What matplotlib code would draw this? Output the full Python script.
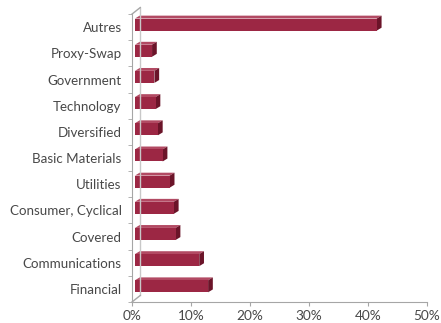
import matplotlib
matplotlib.use("Agg")
import matplotlib.pyplot as plt
from matplotlib.patches import Polygon
import numpy as np

# ===== Data =====
categories = ["Financial", "Communications", "Covered", "Consumer, Cyclical",
              "Utilities", "Basic Materials", "Diversified", "Technology",
              "Government", "Proxy-Swap", "Autres"]
values = [12.4, 10.9, 6.9, 6.6, 5.9, 4.7, 3.9, 3.5, 3.3, 2.9, 41.0]
xticks = [0, 10, 20, 30, 40, 50]
xtick_labels = ["0%", "10%", "20%", "30%", "40%", "50%"]

# ===== Style =====
plt.rcParams['font.family'] = ['Lato', 'DejaVu Sans']
FRONT = "#9c2744"
TOP = "#b24a63"
SIDE = "#6b1429"
TEXT = "#484848"
AXIS = "#a6a6a6"
WALL = "#c8c8c8"

# 3D look (data units)
OFF_X, OFF_Y = 0.5, 0.10      # bar front face shift
DEP_X, DEP_Y = 0.8, 0.11      # bar depth
WALL_X, WALL_Y = 1.4, 0.25    # back wall shift
BAR_H = 0.46

fig = plt.figure(figsize=(4.41, 3.23), dpi=100)
ax = fig.add_axes([132/441, 21/323, 295/441, 295/323])
ax.set_xlim(0, 50)
ax.set_ylim(-0.5, 10.77)

y = np.arange(len(categories))

# back wall / floor edges
ax.plot([WALL_X, WALL_X], [-0.5 + WALL_Y, 10.5 + WALL_Y], color=WALL, lw=1, clip_on=False)
ax.plot([0, WALL_X], [-0.5, -0.5 + WALL_Y], color=AXIS, lw=1, clip_on=False)
ax.plot([0, WALL_X], [10.5, 10.5 + WALL_Y], color=AXIS, lw=1, clip_on=False)

# bars
for yi, v in zip(y, values):
    x0 = OFF_X
    x1 = v + OFF_X
    yb = yi - BAR_H / 2 + OFF_Y
    yt = yi + BAR_H / 2 + OFF_Y
    ax.add_patch(Polygon([[x0, yt], [x1, yt], [x1 + DEP_X, yt + DEP_Y], [x0 + DEP_X, yt + DEP_Y]],
                         closed=True, fc=TOP, ec="none", clip_on=False))
    ax.add_patch(Polygon([[x1, yb], [x1 + DEP_X, yb + DEP_Y], [x1 + DEP_X, yt + DEP_Y], [x1, yt]],
                         closed=True, fc=SIDE, ec="none", clip_on=False))
    ax.barh(yi + OFF_Y, v, left=OFF_X, height=BAR_H, color=FRONT, edgecolor="none", clip_on=False)

# axes
for s in ["top", "right"]:
    ax.spines[s].set_visible(False)
ax.spines["left"].set_color(AXIS)
ax.spines["bottom"].set_color(AXIS)
ax.spines["left"].set_bounds(-0.5, 10.5)

ax.set_xticks(xticks)
ax.set_xticklabels(xtick_labels)
ax.set_yticks(y)
ax.set_yticklabels(categories)
ax.set_yticks(np.arange(-0.5, 11, 1), minor=True)
ax.tick_params(axis="y", which="major", length=0, pad=7.5, labelsize=9.6, labelcolor=TEXT)
ax.tick_params(axis="y", which="minor", length=3, color=AXIS)
ax.tick_params(axis="x", length=3, color=AXIS, labelsize=9.8, labelcolor=TEXT, pad=3)

fig.savefig("out.png", dpi=100)
